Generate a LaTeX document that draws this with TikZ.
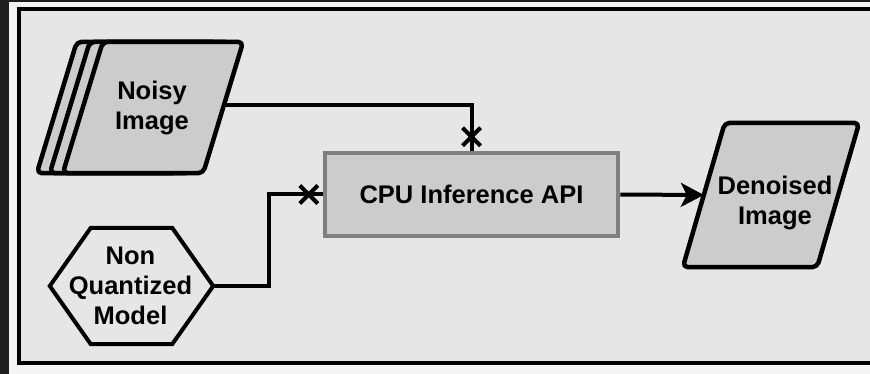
\documentclass[tikz,border=0pt]{standalone}
\usepackage{fontspec}
\setmainfont{Liberation Sans}
\usetikzlibrary{arrows.meta,calc,shapes.misc,backgrounds}
\definecolor{bgin}{HTML}{E6E6E6}
\definecolor{bgout}{HTML}{F4F4F4}
\definecolor{darkstrip}{HTML}{1E1E1E}
\definecolor{boxfill}{HTML}{CCCCCC}
\definecolor{boxline}{HTML}{7F7F7F}
\begin{document}
\begin{tikzpicture}[x=1pt,y=-1pt,
  lbl/.style={font=\bfseries\fontsize{25.5}{30}\selectfont, align=center, text=black, inner sep=0pt},
  para/.style={draw=black, fill=boxfill, line width=4.5pt, rounded corners=5pt, line join=round},
  hexa/.style={draw=black, line width=4pt, line join=miter},
  conn/.style={draw=black, line width=4pt},
  xm/.style={cross out, draw=black, line width=4pt, minimum size=14pt, inner sep=0pt}]
\useasboundingbox (0,0) rectangle (870,374);

% shape holders and labels
\node[minimum width=180pt, minimum height=131pt, inner sep=0pt] (noisy) at (153,107.5) {};
\node[lbl] (noisyT) at (152,108) {Noisy\\Image};
\node[lbl, minimum width=163pt, minimum height=116pt] (model) at (130.5,286) {Non\\Quantized\\Model};
\node[lbl, draw=boxline, fill=boxfill, line width=4.5pt, minimum width=293pt, minimum height=83pt] (cpu) at (471.5,194.5) {CPU Inference API};
\node[minimum width=176pt, minimum height=144pt, inner sep=0pt] (den) at (771,195) {};
\node[lbl] (denT) at (775,203) {Denoised\\Image};

\begin{scope}[on background layer]
  \fill[bgout] (0,0) rectangle (870,374);
  \fill[darkstrip] (0,0) rectangle (9,374);
  \fill[darkstrip] (0,0) rectangle (870,2);
  \draw[line width=3.5pt, fill=bgin] (19,9) rectangle (890,363);
  % stacked noisy image
  \draw[para] ([xshift=14pt]noisy.north west) -- ([xshift=-26pt]noisy.north east) -- ([xshift=-66pt]noisy.south east) -- ([xshift=-26pt]noisy.south west) -- cycle;
  \draw[para] ([xshift=27pt]noisy.north west) -- ([xshift=-13pt]noisy.north east) -- ([xshift=-53pt]noisy.south east) -- ([xshift=-13pt]noisy.south west) -- cycle;
  \draw[para] ([xshift=40pt]noisy.north west) -- (noisy.north east) -- ([xshift=-40pt]noisy.south east) -- (noisy.south west) -- cycle;
  % hexagon
  \draw[hexa] ([xshift=1pt]model.west) -- ([xshift=42pt]model.north west) -- ([xshift=-40pt]model.north east) -- ([xshift=1pt]model.east) -- ([xshift=-40pt]model.south east) -- ([xshift=42pt]model.south west) -- cycle;
  % denoised image
  \draw[para] ([xshift=42pt]den.north west) -- (den.north east) -- ([xshift=-42pt]den.south east) -- (den.south west) -- cycle;
\end{scope}

\coordinate (noisyR) at ($(noisy.north east)!0.48!([xshift=-40pt]noisy.south east)$);
\coordinate (denL) at ($([xshift=42pt]den.north west)!0.5!(den.south west)$);

\draw[conn] (noisyR) -| (cpu.north);
\draw[conn] ([xshift=1pt]model.east) -- ++(56,0) |- (cpu.west);
\draw[conn, -{Stealth[length=23pt,width=24pt,inset=6pt]}] (cpu.east) -- (denL);

\node[xm] (x1) at ($(cpu.north)+(0,-14)$) {};
\node[xm] (x2) at ($(cpu.west)+(-14,0)$) {};
\end{tikzpicture}
\end{document}
